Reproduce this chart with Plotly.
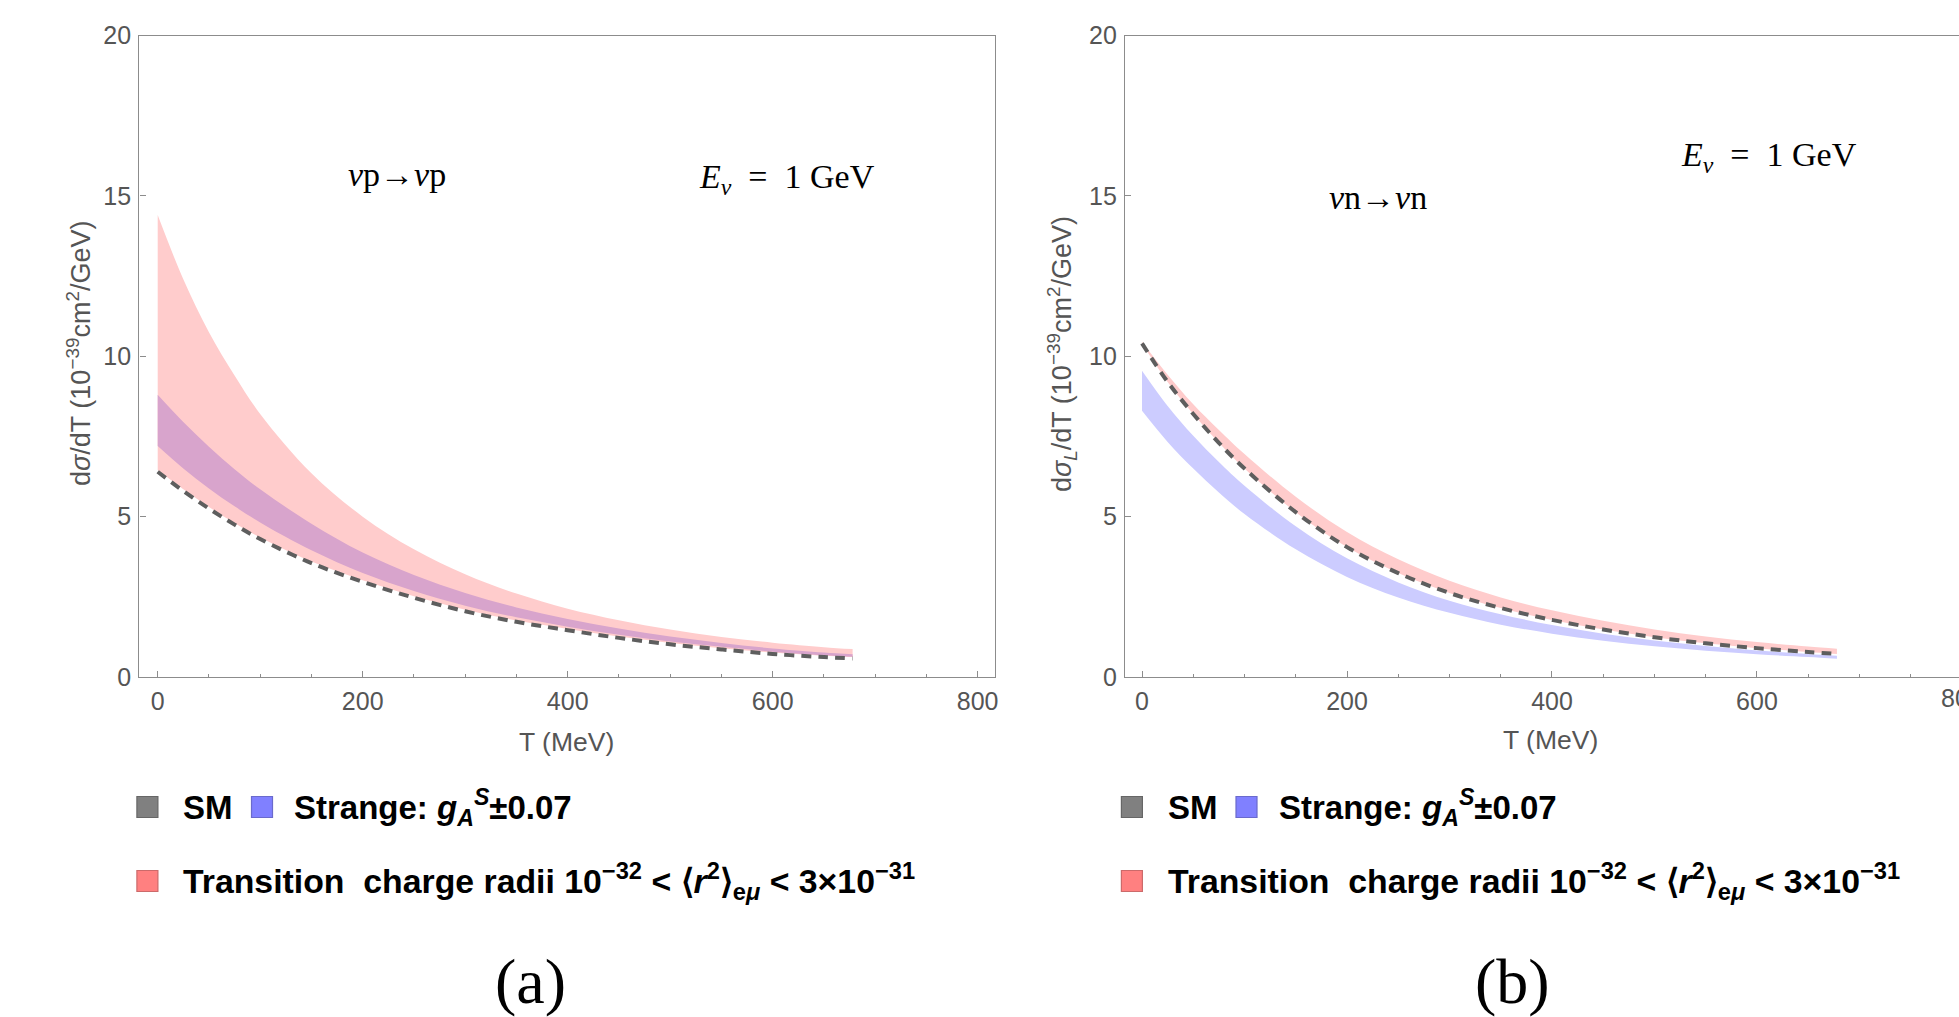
import plotly.graph_objects as go
from plotly.subplots import make_subplots

W, H = 1959, 1017

# ---------------- data ----------------
T = [0, 25, 50, 75, 100, 150, 200, 250, 300, 350, 400, 450, 500, 550, 600, 650, 678]

# panel (a): nu p -> nu p
p_sm      = [6.40, 5.80, 5.25, 4.75, 4.30, 3.55, 2.97, 2.47, 2.05, 1.72, 1.46, 1.22, 1.02, 0.86, 0.72, 0.62, 0.58]
p_tcr_lo  = [6.45, 5.85, 5.30, 4.80, 4.35, 3.60, 3.02, 2.52, 2.10, 1.76, 1.50, 1.26, 1.06, 0.90, 0.76, 0.66, 0.62]
p_tcr_hi  = [14.4, 12.4, 10.75, 9.40, 8.20, 6.35, 5.00, 3.98, 3.20, 2.60, 2.13, 1.77, 1.48, 1.25, 1.07, 0.93, 0.87]
p_str_lo  = [7.20, 6.50, 5.88, 5.32, 4.82, 3.95, 3.24, 2.68, 2.22, 1.86, 1.57, 1.32, 1.11, 0.94, 0.79, 0.68, 0.63]
p_str_hi  = [8.80, 7.95, 7.18, 6.48, 5.85, 4.78, 3.88, 3.18, 2.62, 2.17, 1.81, 1.51, 1.26, 1.06, 0.89, 0.76, 0.71]

# panel (b): nu n -> nu n
n_sm      = [10.4, 9.20, 8.20, 7.30, 6.50, 5.14, 4.05, 3.24, 2.62, 2.15, 1.78, 1.48, 1.24, 1.05, 0.90, 0.78, 0.72]
n_tcr_lo  = [10.4, 9.20, 8.20, 7.30, 6.50, 5.14, 4.05, 3.24, 2.62, 2.15, 1.78, 1.48, 1.24, 1.05, 0.90, 0.78, 0.72]
n_tcr_hi  = [10.45, 9.42, 8.50, 7.70, 6.95, 5.62, 4.52, 3.67, 3.00, 2.48, 2.08, 1.75, 1.48, 1.26, 1.09, 0.95, 0.88]
n_str_lo  = [8.30, 7.33, 6.50, 5.75, 5.08, 3.98, 3.12, 2.48, 2.00, 1.63, 1.35, 1.13, 0.96, 0.82, 0.71, 0.62, 0.57]
n_str_hi  = [9.55, 8.45, 7.52, 6.70, 5.96, 4.70, 3.70, 2.95, 2.38, 1.96, 1.62, 1.35, 1.14, 0.97, 0.83, 0.72, 0.66]

x_ticks = [0, 200, 400, 600, 800]
y_ticks = [0, 5, 10, 15, 20]

legend_sm = "<b>SM</b>"
legend_str = "<b>Strange: </b><b><i>g</i><sub><i>A</i></sub><sup><i>S</i></sup>±0.07</b>"
legend_tcr = ("<b>Transition&nbsp; charge radii 10<sup>−32</sup> &lt; ⟨<i>r</i><sup>2</sup>⟩"
              "<sub>e<i>μ</i></sub> &lt; 3×10<sup>−31</sup></b>")

# ---------------- styles ----------------
PINK = "#ffcccc"
PURPLE = "#d8a4cc"
BLUE = "#ccccff"
SMC = "#5e5e5e"
AX = "#8c8c8c"
TXT = "#555555"
SANS = "Liberation Sans, Arial, sans-serif"
SERIF = "Liberation Serif, Times New Roman, serif"
SM_OPT = dict(shape="spline", smoothing=1.0)

fig = make_subplots(rows=1, cols=2)


def band(lo, hi, color, col):
    fig.add_trace(go.Scatter(x=T, y=lo, mode="lines", line=dict(width=0, **SM_OPT),
                             showlegend=False, hoverinfo="skip"), row=1, col=col)
    fig.add_trace(go.Scatter(x=T, y=hi, mode="lines", line=dict(width=0, **SM_OPT),
                             fill="tonexty", fillcolor=color, showlegend=False, hoverinfo="skip"),
                  row=1, col=col)


band(p_tcr_lo, p_tcr_hi, PINK, 1)
band(p_str_lo, p_str_hi, PURPLE, 1)
fig.add_trace(go.Scatter(x=T, y=p_sm, mode="lines",
                         line=dict(color=SMC, width=4, dash="10px,7px", **SM_OPT),
                         showlegend=False), row=1, col=1)

band(n_tcr_lo, n_tcr_hi, PINK, 2)
band(n_str_lo, n_str_hi, BLUE, 2)
fig.add_trace(go.Scatter(x=T, y=n_sm, mode="lines",
                         line=dict(color=SMC, width=4, dash="10px,7px", **SM_OPT),
                         showlegend=False), row=1, col=2)


def px(x):
    return x / W


def py(y):
    return 1 - y / H


xcommon = dict(tickmode="array", tickvals=x_ticks, ticks="inside", ticklen=6, tickwidth=1.2, tickcolor=AX,
               showline=True, linecolor=AX, linewidth=1.4, mirror=True, showgrid=False, zeroline=False,
               tickfont=dict(family=SANS, size=25, color=TXT), ticklabelstandoff=2,
               minor=dict(tickmode="linear", tick0=0, dtick=50, ticks="inside", ticklen=3, tickcolor=AX,
                          tickwidth=1, showgrid=False),
               automargin=False)
ycommon = dict(tickmode="array", tickvals=y_ticks, range=[0, 20], ticks="inside", ticklen=6, tickwidth=1.2,
               tickcolor=AX, showline=True, linecolor=AX, linewidth=1.4, showgrid=False, zeroline=False,
               tickfont=dict(family=SANS, size=25, color=TXT), ticklabelstandoff=2, automargin=False)

fig.update_xaxes(domain=[px(139.3), px(995.3)], range=[-17.95, 817.2], row=1, col=1, **xcommon)
fig.update_xaxes(domain=[px(1125), 1.0], range=[-16.6, 797.1], row=1, col=2, **xcommon)
fig.update_yaxes(domain=[py(677), py(35.5)], mirror=True, row=1, col=1, **ycommon)
fig.update_yaxes(domain=[py(677), py(35.5)], mirror=False, row=1, col=2, **ycommon)

ann = []


def text(x, y, s, size, family=SANS, color="black", xanchor="center", angle=0):
    ann.append(dict(x=px(x), y=py(y), xref="paper", yref="paper", text=s, showarrow=False,
                    xanchor=xanchor, yanchor="middle", textangle=angle,
                    font=dict(family=family, size=size, color=color)))


# axis titles
text(566, 742, "T (MeV)", 26.5, color=TXT)
text(1550, 740, "T (MeV)", 26.5, color=TXT)
text(79, 354, "d<i>σ</i>/dT (10<sup>−39</sup>cm<sup>2</sup>/GeV)", 27, color=TXT, angle=-90)
text(1062, 354, "d<i>σ</i><sub><i>L</i></sub>/dT (10<sup>−39</sup>cm<sup>2</sup>/GeV)", 27, color=TXT, angle=-90)
# clipped tick label at the right edge
text(1962, 698, "800", 25, color=TXT)

# in-plot labels
text(397, 175, "<i>ν</i>p→<i>ν</i>p", 34, family=SERIF)
text(787, 179, "<i>E<sub>ν</sub></i>&nbsp; =&nbsp; 1 GeV", 34, family=SERIF)
text(1378, 197, "<i>ν</i>n→<i>ν</i>n", 34, family=SERIF)
text(1769, 157, "<i>E<sub>ν</sub></i>&nbsp; =&nbsp; 1 GeV", 34, family=SERIF)

# captions
text(530, 981, "(a)", 64, family=SERIF)
text(1512, 981, "(b)", 64, family=SERIF)

shapes = []


def square(cx, cy, fill, edge):
    s = 10.5
    shapes.append(dict(type="rect", xref="paper", yref="paper", x0=px(cx - s), x1=px(cx + s),
                       y0=py(cy + s), y1=py(cy - s), fillcolor=fill, line=dict(color=edge, width=1.2)))


for dx in (0, 984.5):
    square(147.4 + dx, 807, "#808080", "#666666")
    text(181 + dx, 807, legend_sm, 33, xanchor="left")
    square(262 + dx, 807, "#8080ff", "#6a6acc")
    text(292 + dx, 807, legend_str, 33, xanchor="left")
    square(147.4 + dx, 881, "#ff8080", "#cc6a6a")
    text(181 + dx, 881, legend_tcr, 33.8, xanchor="left")

fig.update_layout(width=W, height=H, margin=dict(l=0, r=0, t=0, b=0), paper_bgcolor="white",
                  plot_bgcolor="white", showlegend=False, annotations=ann, shapes=shapes)

fig.write_html("out.html", config={"displayModeBar": False},
               post_script="document.body.style.margin='0';document.body.style.overflow='hidden';")
